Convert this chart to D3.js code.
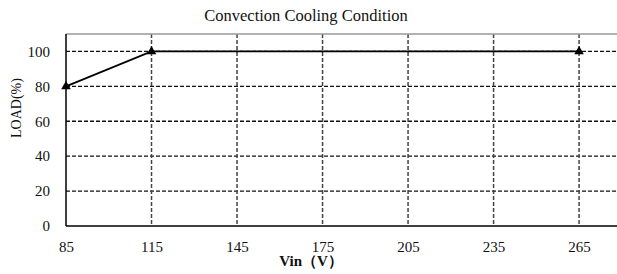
<!DOCTYPE html>
<html>
<head>
<meta charset="utf-8">
<script src="https://cdn.jsdelivr.net/npm/d3@7"></script>
<style>
  body { margin: 0; background: #fff; }
  text { font-family: "Liberation Serif", "DejaVu Serif", serif; }
</style>
</head>
<body>
<svg width="617" height="274"></svg>
<script>
// data
const vin = [85, 115, 265]
const load = [80, 100, 100]
const xTicks = [85, 115, 145, 175, 205, 235, 265]
const yTicks = [0, 20, 40, 60, 80, 100]

const svg = d3.select("svg")
const mLeft = 66, mRight = 617, mTop = 34, mBottom = 226

let x = d3.scaleLinear().domain([85, 278.3]).range([mLeft, mRight])
let y = d3.scaleLinear().domain([0, 110]).range([mBottom, mTop])

// grid lines
svg.append("g")
  .selectAll("line")
  .data(yTicks.filter(d => d > 0))
  .join("line")
    .attr("x1", mLeft).attr("x2", mRight)
    .attr("y1", d => y(d)).attr("y2", d => y(d))
    .attr("stroke", "#111")
    .attr("stroke-width", 1.3)
    .attr("stroke-dasharray", "4,2")

svg.append("g")
  .selectAll("line")
  .data(xTicks.filter(d => d > 85))
  .join("line")
    .attr("x1", d => x(d)).attr("x2", d => x(d))
    .attr("y1", mTop).attr("y2", mBottom)
    .attr("stroke", "#444")
    .attr("stroke-width", 1.5)
    .attr("stroke-dasharray", "4,2")

// frame
svg.append("line")
  .attr("x1", mLeft).attr("x2", mRight).attr("y1", mTop).attr("y2", mTop)
  .attr("stroke", "#999").attr("stroke-width", 1.5)
svg.append("line")
  .attr("x1", mLeft).attr("x2", mRight).attr("y1", mBottom).attr("y2", mBottom)
  .attr("stroke", "#000").attr("stroke-width", 1.5)
svg.append("line")
  .attr("x1", mLeft).attr("x2", mLeft).attr("y1", mTop).attr("y2", mBottom)
  .attr("stroke", "#000").attr("stroke-width", 1.5)

// axes labels
let yAxis = d3.axisLeft(y).tickValues(yTicks).tickSize(0).tickPadding(16)
svg.append("g")
  .attr("transform", `translate(${mLeft},0)`)
  .call(yAxis)
  .call(g => g.select(".domain").remove())
  .call(g => g.selectAll("text")
    .style("font-family", "'Liberation Serif', serif")
    .style("font-size", "15px")
    .attr("fill", "#111"))

let xAxis = d3.axisBottom(x).tickValues(xTicks).tickSize(0).tickPadding(15)
svg.append("g")
  .attr("transform", `translate(0,${mBottom})`)
  .call(xAxis)
  .call(g => g.select(".domain").remove())
  .call(g => g.selectAll("text")
    .style("font-family", "'Liberation Serif', serif")
    .style("font-size", "15px")
    .attr("fill", "#111"))

// series line
let line = d3.line().x((d, i) => x(vin[i])).y(d => y(d))
svg.append("path")
  .datum(load)
  .attr("fill", "none")
  .attr("stroke", "#000")
  .attr("stroke-width", 1.8)
  .attr("d", line)

svg.append("g")
  .selectAll("path")
  .data(load)
  .join("path")
    .attr("transform", (d, i) => `translate(${x(vin[i])},${y(d)})`)
    .attr("d", d3.symbol(d3.symbolTriangle, 40))
    .attr("fill", "#000")

// titles
svg.append("text")
  .attr("x", 306).attr("y", 21)
  .attr("text-anchor", "middle")
  .style("font-size", "16.5px")
  .style("fill", "#111")
  .text("Convection Cooling Condition")

svg.append("text")
  .attr("transform", "translate(21,108) rotate(-90)")
  .attr("text-anchor", "middle")
  .style("font-size", "14px")
  .style("fill", "#111")
  .text("LOAD(%)")

svg.append("text")
  .attr("x", 311).attr("y", 266)
  .attr("text-anchor", "middle")
  .style("font-size", "15px")
  .style("font-weight", "bold")
  .style("fill", "#111")
  .text("Vin（V）")
</script>
</body>
</html>
